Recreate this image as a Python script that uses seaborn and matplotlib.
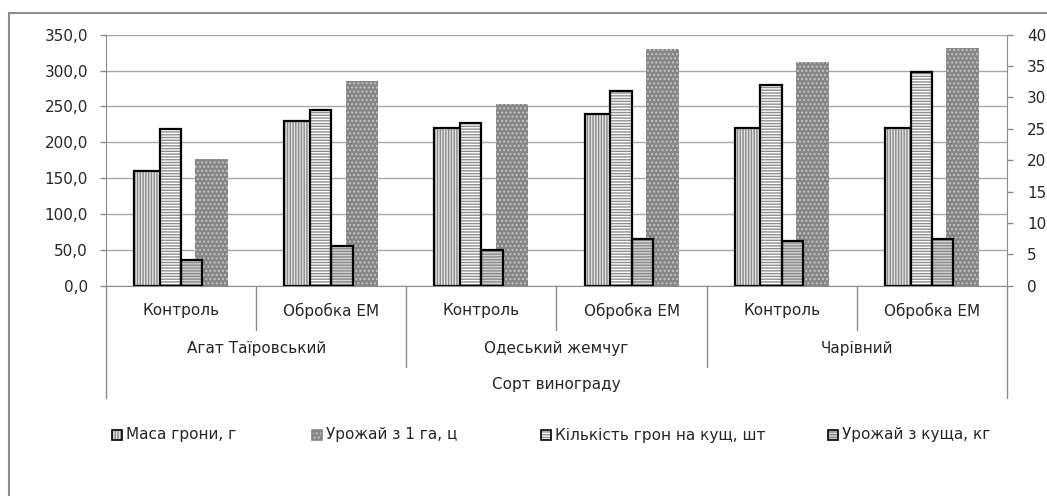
import matplotlib
matplotlib.use("Agg")
import matplotlib.pyplot as plt
from matplotlib.patches import Rectangle
from matplotlib.ticker import FuncFormatter, FixedLocator
import pandas as pd
import seaborn as sns

# ---- data -------------------------------------------------------------
varieties = ["Агат Таїровський", "Одеський жемчуг", "Чарівний"]
treatments = ["Контроль", "Обробка EM"]
axis_title = "Сорт винограду"

bunch_mass = [160, 230, 220, 240, 220, 220]        # Маса грони, г (left axis)
yield_per_ha = [177, 286, 254, 330, 312, 331]      # Урожай з 1 га, ц (left axis)
bunch_count = [25, 28, 26, 31, 32, 34]             # Кількість грон на кущ, шт (right axis)
yield_per_bush = [4.1, 6.4, 5.7, 7.5, 7.1, 7.5]    # Урожай з куща, кг (right axis)

name_mass = "Маса грони, г"
name_ha = "Урожай з 1 га, ц"
name_count = "Кількість грон на кущ, шт"
name_bush = "Урожай з куща, кг"

left_ticks = [0, 50, 100, 150, 200, 250, 300, 350]
right_ticks = [0, 5, 10, 15, 20, 25, 30, 35, 40]

# ---- tables -----------------------------------------------------------
cats = [f"{v}|{t}" for v in varieties for t in treatments]


def long_table(series):
    rows = []
    for name, values in series:
        for c, val in zip(cats, values):
            rows.append({"cat": c, "series": name, "value": val})
    return pd.DataFrame(rows)


primary = long_table([(name_mass, bunch_mass), (name_ha, yield_per_ha)])
secondary = long_table([(name_count, bunch_count), (name_bush, yield_per_bush)])

# ---- styles -----------------------------------------------------------
sns.set_style("white")
plt.rcParams["font.family"] = ["DejaVu Sans"]
plt.rcParams["hatch.linewidth"] = 1.0

styles = {
    name_mass: dict(face="#e4e4e4", hatch="||||||", hc="#8a8a8a", outline=True),
    name_ha: dict(face="#858585", hatch="....", hc="#c4c4c4", outline=False),
    name_count: dict(face="#ffffff", hatch="------", hc="#8e8e8e", outline=True),
    name_bush: dict(face="#d2d2d2", hatch="------", hc="#8a8a8a", outline=True),
}
grey_line = "#8c8c8c"
text_col = "#262626"

W, H = 1047, 496
fig = plt.figure(figsize=(W / 100, H / 100), dpi=100)
ax = fig.add_axes([106 / W, 1 - 285.7 / H, 901 / W, 251 / H])
ax2 = ax.twinx()

sns.barplot(data=primary, x="cat", y="value", hue="series", order=cats,
            hue_order=[name_mass, name_ha], width=0.816, gap=0.466,
            errorbar=None, legend=False, ax=ax,
            palette=[styles[name_mass]["face"], styles[name_ha]["face"]])
sns.barplot(data=secondary, x="cat", y="value", hue="series", order=cats,
            hue_order=[name_count, name_bush], width=0.284,
            errorbar=None, legend=False, ax=ax2,
            palette=[styles[name_count]["face"], styles[name_bush]["face"]])


def style_bars(axis, names):
    for cont, name in zip(axis.containers, names):
        st = styles[name]
        for bar in cont:
            bar.set_facecolor(st["face"])
            bar.set_edgecolor(st["hc"])
            bar.set_hatch(st["hatch"])
            bar.set_linewidth(0)
            if st["outline"]:
                axis.add_patch(Rectangle(bar.get_xy(), bar.get_width(), bar.get_height(),
                                         fill=False, edgecolor="black", linewidth=1.6,
                                         zorder=bar.get_zorder() + 0.1))


style_bars(ax, [name_mass, name_ha])
style_bars(ax2, [name_count, name_bush])

# ---- axes -------------------------------------------------------------
for a in (ax, ax2):
    a.set_xlim(-0.5, len(cats) - 0.5)
    a.set_xlabel("")
    a.set_ylabel("")
    a.set_xticks([])
    for s in a.spines.values():
        s.set_visible(False)

ax.set_ylim(0, 350)
ax2.set_ylim(0, 40)
ax.yaxis.set_major_locator(FixedLocator(left_ticks))
ax2.yaxis.set_major_locator(FixedLocator(right_ticks))
ax.yaxis.set_major_formatter(FuncFormatter(lambda v, p: f"{v:.1f}".replace(".", ",")))
ax2.yaxis.set_major_formatter(FuncFormatter(lambda v, p: f"{int(v)}"))

ax.set_axisbelow(True)
ax.grid(axis="y", color="#a8a8a8", linewidth=1)
ax.grid(axis="x", visible=False)
ax2.grid(False)

ax.spines["left"].set_visible(True)
ax.spines["left"].set_color(grey_line)
ax.spines["bottom"].set_visible(True)
ax.spines["bottom"].set_color(grey_line)
ax2.spines["right"].set_visible(True)
ax2.spines["right"].set_color(grey_line)

ax.tick_params(axis="y", direction="out", length=4.5, width=1, color=grey_line,
               pad=8.5, labelsize=11, labelcolor=text_col, left=True)
ax2.tick_params(axis="y", direction="out", length=4.5, width=1, color=grey_line,
                pad=10, labelsize=11, labelcolor=text_col, right=True)
ax.tick_params(axis="x", length=0)
ax2.tick_params(axis="x", length=0)

# ---- multi-level category axis ---------------------------------------
tr = ax.get_xaxis_transform()
px = 1 / 251.0
row1_bottom = -(330 - 285.7) * px
row2_bottom = -(367 - 285.7) * px
row3_bottom = -(398 - 285.7) * px

for i, c in enumerate(cats):
    ax.text(i, -(311 - 285.7) * px, c.split("|")[1], transform=tr, ha="center",
            va="center", fontsize=11, color=text_col)
for g, v in enumerate(varieties):
    ax.text(g * 2 + 0.5, -(348 - 285.7) * px, v, transform=tr, ha="center",
            va="center", fontsize=11, color=text_col)
ax.text((len(cats) - 1) / 2, -(385 - 285.7) * px, axis_title, transform=tr,
        ha="center", va="center", fontsize=11, color=text_col)

for b in range(len(cats) + 1):
    xb = b - 0.5
    if b in (0, len(cats)):
        yb = row3_bottom
    elif b % 2 == 0:
        yb = row2_bottom
    else:
        yb = row1_bottom
    ax.plot([xb, xb], [0, yb], transform=tr, color=grey_line, lw=1, clip_on=False)

# ---- legend -----------------------------------------------------------
legend_x = [112, 312, 541, 828]
legend_y = 435
for xpx, name in zip(legend_x, [name_mass, name_ha, name_count, name_bush]):
    st = styles[name]
    box = (xpx / W, 1 - (legend_y + 5) / H)
    fig.add_artist(Rectangle(box, 10 / W, 10 / H, transform=fig.transFigure,
                             facecolor=st["face"], edgecolor=st["hc"],
                             hatch=st["hatch"], linewidth=0))
    fig.add_artist(Rectangle(box, 10 / W, 10 / H, transform=fig.transFigure,
                             fill=False,
                             edgecolor="black" if st["outline"] else st["face"],
                             linewidth=1.2))
    fig.text((xpx + 14) / W, 1 - legend_y / H, name, ha="left", va="center",
             fontsize=11, color=text_col)

# chart frame
fig.add_artist(Rectangle((9 / W, -0.1), 1.2, 1.1 - 13 / H, transform=fig.transFigure,
                         fill=False, edgecolor=grey_line, linewidth=1.5))

fig.savefig("out.png", dpi=100)
